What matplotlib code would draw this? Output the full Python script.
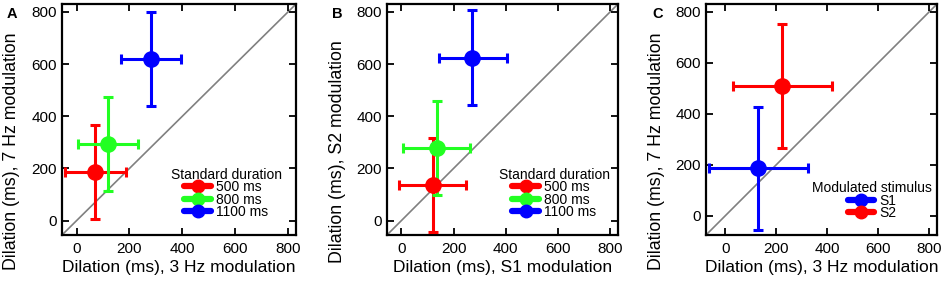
import matplotlib.pyplot as plt
from matplotlib.lines import Line2D
import numpy as np

plt.rcParams['font.family'] = ['Liberation Sans', 'DejaVu Sans']

# Panel A: 3 Hz vs 7 Hz modulation, by standard duration
a_labels = ['500 ms', '800 ms', '1100 ms']
a_colors = ['#ff0000', '#22ff22', '#0000ff']
a_x = [70, 118, 280]
a_x_lo = [-45, 5, 167]
a_x_hi = [187, 232, 395]
a_y = [185, 295, 620]
a_y_lo = [5, 115, 440]
a_y_hi = [365, 473, 800]

# Panel B: S1 vs S2 modulation, by standard duration
b_x = [120, 135, 272]
b_x_lo = [-10, 5, 145]
b_x_hi = [248, 265, 403]
b_y = [138, 278, 625]
b_y_lo = [-45, 100, 445]
b_y_hi = [315, 458, 808]

# Panel C: 3 Hz vs 7 Hz modulation, by modulated stimulus
c_labels = ['S1', 'S2']
c_colors = ['#0000ff', '#ff0000']
c_x = [130, 222]
c_x_lo = [-65, 30]
c_x_hi = [323, 417]
c_y = [187, 507]
c_y_lo = [-55, 265]
c_y_hi = [428, 750]

ticks = [0, 200, 400, 600, 800]


def draw_panel(ax, xs, xlo, xhi, ys, ylo, yhi, colors, labels, lims,
               xlabel, ylabel, leg_title, anchor):
    ax.plot([-100, 900], [-100, 900], color='#808080', lw=1.2, zorder=1)
    handles = []
    for i in range(len(xs)):
        xerr = [[xs[i] - xlo[i]], [xhi[i] - xs[i]]]
        yerr = [[ys[i] - ylo[i]], [yhi[i] - ys[i]]]
        ax.errorbar([xs[i]], [ys[i]], xerr=xerr, yerr=yerr, fmt='o',
                    color=colors[i], ms=11, elinewidth=2.2, capsize=3.5,
                    capthick=2.2, zorder=3)
        handles.append(Line2D([], [], color=colors[i], lw=4.5, marker='o',
                              ms=9, solid_capstyle='round'))
    ax.set_xlim(lims)
    ax.set_ylim(lims)
    ax.set_xticks(ticks)
    ax.set_yticks(ticks)
    ax.tick_params(direction='in', top=True, right=True, length=5,
                   width=1.3, labelsize=11)
    ax.tick_params(axis='x', pad=5)
    ax.tick_params(axis='y', pad=3.5)
    for sp in ax.spines.values():
        sp.set_linewidth(1.6)
    ax.set_xlabel(xlabel, fontsize=12.5, labelpad=3)
    ax.set_ylabel(ylabel, fontsize=12.8)
    ax.yaxis.set_label_coords(-0.178, 0.361)
    ax.legend(handles, labels, title=leg_title, loc='lower right',
              frameon=False, fontsize=10, title_fontsize=10,
              handlelength=1.9, handletextpad=0.4, labelspacing=-0.12,
              borderaxespad=0, borderpad=0, bbox_to_anchor=anchor)


fig = plt.figure(figsize=(9.45, 2.83), dpi=100)
ax_a = fig.add_axes([0.0656, 0.1696, 0.2476, 0.816])
ax_b = fig.add_axes([0.4095, 0.1696, 0.2444, 0.816])
ax_c = fig.add_axes([0.7471, 0.1696, 0.2444, 0.816])

draw_panel(ax_a, a_x, a_x_lo, a_x_hi, a_y, a_y_lo, a_y_hi, a_colors,
           a_labels, (-55, 830), 'Dilation (ms), 3 Hz modulation',
           'Dilation (ms), 7 Hz modulation', 'Standard duration',
           (0.94, 0.07))
draw_panel(ax_b, b_x, b_x_lo, b_x_hi, b_y, b_y_lo, b_y_hi, a_colors,
           a_labels, (-55, 830), 'Dilation (ms), S1 modulation',
           'Dilation (ms), S2 modulation', 'Standard duration',
           (0.965, 0.07))
draw_panel(ax_c, c_x, c_x_lo, c_x_hi, c_y, c_y_lo, c_y_hi, c_colors,
           c_labels, (-75, 830), 'Dilation (ms), 3 Hz modulation',
           'Dilation (ms), 7 Hz modulation', 'Modulated stimulus',
           (0.98, 0.065))

for letter, xpos in [('A', 0.007), ('B', 0.351), ('C', 0.690)]:
    fig.text(xpos, 0.977, letter, fontsize=10.5, fontweight='bold',
             va='top', ha='left')

fig.savefig('out.png', dpi=100)
